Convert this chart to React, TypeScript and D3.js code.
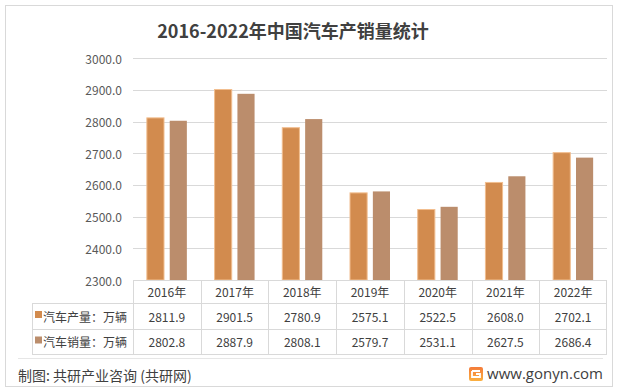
import React from "react";
import * as d3 from "d3";

const years = ["2016年", "2017年", "2018年", "2019年", "2020年", "2021年", "2022年"];
const production = [2811.9, 2901.5, 2780.9, 2575.1, 2522.5, 2608.0, 2702.1];
const sales = [2802.8, 2887.9, 2808.1, 2579.7, 2531.1, 2627.5, 2686.4];
const seriesNames = ["汽车产量：万辆", "汽车销量：万辆"];
const yTicks = [2300, 2400, 2500, 2600, 2700, 2800, 2900, 3000];

const W = 619;
const H = 392;
const font = "'Noto Sans CJK SC', 'Noto Sans', sans-serif";
const colors = ["#D28B4E", "#BB8D6C"];
const grid = "#D9D9D9";
const textColor = "#404040";

const App = () => {
  const x = d3.scaleBand<string>().domain(years).range([133, 607]);
  const y = d3.scaleLinear().domain([2300, 3000]).range([280, 58.3]);
  // two bars per year, 15px wide with a 5px gap
  const inner = d3
    .scaleBand<number>()
    .domain([0, 1])
    .range([0, 40])
    .paddingInner(0.25);
  const barOffset = (x.bandwidth() - 40) / 2;

  const series = [production, sales];
  const rowTop = [280, 303, 329, 354];
  const rowMid = (i: number) => (rowTop[i] + rowTop[i + 1]) / 2;

  return (
    <svg
      width={W}
      height={H}
      style={{ position: "absolute", left: 0, top: 0, background: "#fff" }}
      fontFamily={font}
    >
      <rect x={0} y={0} width={W} height={H} fill="#fff" />
      <rect x={5.5} y={5.5} width={607} height={381} fill="none" stroke={grid} />

      <text
        x={293}
        y={30}
        textAnchor="middle"
        dominantBaseline="central"
        fontSize={18}
        fontWeight="bold"
        fill="#404040"
      >
        2016-2022年中国汽车产销量统计
      </text>

      {/* gridlines + y labels */}
      {yTicks.map((t) => (
        <g key={t}>
          {t !== 2300 && (
            <line
              x1={133}
              x2={607}
              y1={Math.round(y(t)) + 0.5}
              y2={Math.round(y(t)) + 0.5}
              stroke={grid}
            />
          )}
          <text
            x={122}
            y={y(t)}
            textAnchor="end"
            dominantBaseline="central"
            fontSize={12}
            fill="#595959"
          >
            {t.toFixed(1)}
          </text>
        </g>
      ))}

      {/* bars */}
      {years.map((yr, i) =>
        series.map((s, k) => (
          <rect
            key={yr + k}
            x={(x(yr) as number) + barOffset + (inner(k) as number)}
            y={y(s[i])}
            width={inner.bandwidth()}
            height={y(2300) - y(s[i])}
            fill={colors[k]}
            stroke={k === 0 ? "#F2BE8F" : "none"}
            strokeWidth={k === 0 ? 1 : 0}
          />
        ))
      )}

      {/* data table */}
      <g stroke={grid} fill="none">
        <line x1={133} x2={607} y1={280.5} y2={280.5} />
        <line x1={32} x2={607} y1={303.5} y2={303.5} />
        <line x1={32} x2={607} y1={329.5} y2={329.5} />
        <line x1={32} x2={607} y1={354.5} y2={354.5} />
        <line x1={32.5} x2={32.5} y1={303} y2={354} />
        {years.map((yr) => (
          <line
            key={yr}
            x1={Math.round(x(yr) as number) + 0.5}
            x2={Math.round(x(yr) as number) + 0.5}
            y1={280}
            y2={354}
          />
        ))}
        <line x1={606.5} x2={606.5} y1={280} y2={354} />
      </g>

      {years.map((yr) => (
        <text
          key={yr}
          x={(x(yr) as number) + x.bandwidth() / 2}
          y={rowMid(0)}
          textAnchor="middle"
          dominantBaseline="central"
          fontSize={12}
          fill={textColor}
        >
          {yr}
        </text>
      ))}

      {series.map((s, k) => (
        <g key={k}>
          <rect x={35} y={rowMid(k + 1) - 5} width={7} height={7} fill={colors[k]} />
          <text
            x={43}
            y={rowMid(k + 1)}
            dominantBaseline="central"
            fontSize={12}
            fill={textColor}
          >
            {seriesNames[k]}
          </text>
          {years.map((yr, i) => (
            <text
              key={yr}
              x={(x(yr) as number) + x.bandwidth() / 2}
              y={rowMid(k + 1)}
              textAnchor="middle"
              dominantBaseline="central"
              fontSize={12}
              fill={textColor}
            >
              {s[i].toFixed(1)}
            </text>
          ))}
        </g>
      ))}

      {/* footer */}
      <line x1={18} x2={603} y1={358.5} y2={358.5} stroke="#E6E6E6" />
      <text x={18} y={375} dominantBaseline="central" fontSize={14} fill={textColor}>
        制图: 共研产业咨询 (共研网)
      </text>

      <defs>
        <linearGradient id="logoGrad" x1="0" y1="0" x2="0" y2="1">
          <stop offset="0%" stopColor="#F47B3A" />
          <stop offset="100%" stopColor="#FBB040" />
        </linearGradient>
      </defs>
      <g transform="translate(469,367)">
        <rect x={0} y={0} width={14} height={14} rx={2} fill="url(#logoGrad)" />
        <path
          d="M3 4 H11 M3 4 V10 H11 V7 H7"
          stroke="#fff"
          strokeWidth={1.8}
          fill="none"
        />
      </g>
      <text
        x={603}
        y={373}
        textAnchor="end"
        dominantBaseline="central"
        fontSize={15}
        fill={textColor}
        fontFamily="'Open Sans', 'Noto Sans', sans-serif"
      >
        www.gonyn.com
      </text>
    </svg>
  );
};

export default App;
